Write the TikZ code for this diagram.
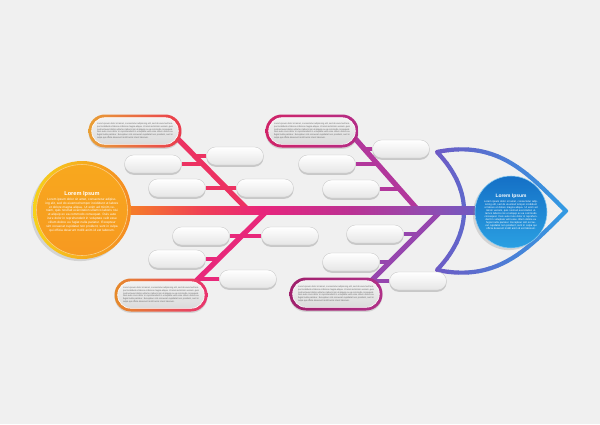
\documentclass[tikz,border=0pt]{standalone}
\usepackage{fontspec}
\setmainfont{Liberation Sans}
\usetikzlibrary{positioning,calc,shadows}

\definecolor{paper}{HTML}{F0F0F0}
\definecolor{spineA}{HTML}{F57A2A}
\definecolor{spineB}{HTML}{EF3F55}
\definecolor{spineC}{HTML}{E8257C}
\definecolor{spineD}{HTML}{BC3193}
\definecolor{spineE}{HTML}{8E4DB2}
\definecolor{spineF}{HTML}{6E5AC2}
\definecolor{eyeA}{HTML}{6F58C4}
\definecolor{eyeB}{HTML}{2E9EE4}
\definecolor{boneA}{HTML}{EC3262}
\definecolor{boneB}{HTML}{B2379C}
\definecolor{boneC}{HTML}{E8287A}
\definecolor{boneD}{HTML}{9646AE}
\definecolor{ringTLa}{HTML}{E9A035}
\definecolor{ringTLb}{HTML}{EA3A4E}
\definecolor{ringTMa}{HTML}{D02468}
\definecolor{ringTMb}{HTML}{B42C86}
\definecolor{ringBLa}{HTML}{E68A2A}
\definecolor{ringBLb}{HTML}{E8336E}
\definecolor{ringBRa}{HTML}{A0206C}
\definecolor{ringBRb}{HTML}{B03088}
\definecolor{sunA}{HTML}{F6D21A}
\definecolor{sunB}{HTML}{F58A22}
\definecolor{sunC}{HTML}{F8A81E}
\definecolor{sunD}{HTML}{FAD08C}
\definecolor{seaA}{HTML}{1570C6}
\definecolor{seaB}{HTML}{2AA0E2}
\definecolor{seaC}{HTML}{8CCDF2}

\pgfdeclarehorizontalshading{spineshade}{100bp}{color(0bp)=(spineA); color(31bp)=(spineA); color(39bp)=(spineB); color(46bp)=(spineC); color(56bp)=(spineD); color(66bp)=(spineE); color(71bp)=(spineF); color(100bp)=(spineF)}

\newcommand{\loremtext}{Lorem ipsum dolor sit amet, consectetur adipiscing elit, sed do eiusmod tempor incididunt ut labore et dolore magna aliqua. Ut enim ad minim veniam, quis nostrud exercitation ullamco laboris nisi ut aliquip ex ea commodo consequat. Duis aute irure dolor in reprehenderit in voluptate velit esse cillum dolore eu fugiat nulla pariatur. Excepteur sint occaecat cupidatat non proident, sunt in culpa qui officia deserunt mollit anim id est laborum.}
\newcommand{\eyepath}{(437,152) .. controls (500,139) and (530,176) .. (566,211) .. controls (530,246) and (500,283) .. (437,270) .. controls (456,250) and (464,230) .. (464,211) .. controls (464,192) and (456,172) .. (437,152) -- cycle}

\begin{document}
\begin{tikzpicture}[x=0.05cm,y=-0.05cm]
  \tikzstyle{pill}=[rectangle,rounded corners=0.45cm,minimum width=2.85cm,minimum height=0.9cm,inner sep=0pt,draw=black!22,line width=0.5pt,top color=white,bottom color=black!10,drop shadow={shadow xshift=0pt,shadow yshift=-2.5pt,opacity=0.35}]
  \tikzstyle{bigring}=[rectangle,rounded corners=0.82cm,minimum width=4.65cm,minimum height=1.65cm,inner sep=0pt,drop shadow={shadow xshift=0pt,shadow yshift=-2pt,opacity=0.25}]
  \tikzstyle{bigtext}=[rectangle,rounded corners=0.66cm,minimum width=4.33cm,minimum height=1.33cm,inner sep=0pt,draw=white,line width=0.8pt,top color=black!5,bottom color=black!14,text=black!60,text width=3.8cm,align=justify,font=\fontsize{3.2}{3.9}\selectfont]
  \tikzstyle{bone}=[line width=7.5pt]
  \tikzstyle{stub}=[line width=4.5pt]
  \tikzstyle{eyeline}=[line width=6pt,line join=round]
  \tikzstyle{headtitle}=[text=white,inner sep=0pt,font=\bfseries\fontsize{8}{9}\selectfont]
  \tikzstyle{headpara}=[text=white,inner sep=0pt,align=center,font=\fontsize{4.5}{5.5}\selectfont]

  \fill[paper] (0,0) rectangle (600,424);
  \useasboundingbox (0,0) rectangle (600,424);

  \coordinate (tail) at (82,210);
  \coordinate (head) at (511,212);

  % head outline
  \foreach \i in {0,...,14} {
    \pgfmathsetmacro\xa{428+10*\i}
    \pgfmathtruncatemacro\pc{100-\i*100/14}
    \begin{scope}
      \clip (\xa,130) rectangle ({\xa+10.5},295);
      \draw[eyeline,draw=eyeA!\pc!eyeB] \eyepath;
    \end{scope}
  }

  % bones
  \coordinate (b1top) at (174,135);   \coordinate (b1foot) at (248,210);
  \coordinate (b2top) at (352,135);   \coordinate (b2foot) at (418,210);
  \coordinate (b3top) at (187,290);   \coordinate (b3foot) at (268,210);
  \coordinate (b4top) at (363,289);   \coordinate (b4foot) at (442,210);

  \coordinate (b1a) at (202,164);  \coordinate (b1b) at (226,188);  \coordinate (b1c) at (194,156);
  \coordinate (b2a) at (377,164);  \coordinate (b2b) at (399,189);  \coordinate (b2c) at (364,149);
  \coordinate (b3a) at (241,236);  \coordinate (b3b) at (218,259);  \coordinate (b3c) at (198,279);
  \coordinate (b4a) at (418,234);  \coordinate (b4b) at (390,262);  \coordinate (b4c) at (371,281);

  \node[pill] (pa) at (153,164) {};
  \node[pill] (pb) at (177,188) {};
  \node[pill] (pc) at (235,156) {};
  \node[pill] (pd) at (265,188) {};
  \node[pill] (pf) at (327,164) {};
  \node[pill] (pg) at (351,189) {};
  \node[pill] (ph) at (401,149) {};
  \node[pill] (pj) at (201,236) {};
  \node[pill] (pk) at (177,259) {};
  \node[pill] (pl) at (248,279) {};
  \node[pill] (pm) at (290,236) {};
  \node[pill] (po) at (375,234) {};
  \node[pill] (pp) at (351,262) {};
  \node[pill] (pq) at (418,281) {};

  \draw[stub,boneA] (pa.east) -- (b1a);
  \draw[stub,boneA] (pb.east) -- (b1b);
  \draw[stub,boneA] (pc.west) -- (b1c);
  \draw[stub,boneA] (pd.west) -- (b1b);
  \draw[stub,boneB] (pf.east) -- (b2a);
  \draw[stub,boneB] (pg.east) -- (b2b);
  \draw[stub,boneB] (ph.west) -- (b2c);
  \draw[stub,boneC] (pj.east) -- (b3a);
  \draw[stub,boneC] (pk.east) -- (b3b);
  \draw[stub,boneC] (pl.west) -- (b3c);
  \draw[stub,boneC] (pm.west) -- (b3a);
  \draw[stub,boneD] (po.east) -- (b4a);
  \draw[stub,boneD] (pp.east) -- (b4b);
  \draw[stub,boneD] (pq.west) -- (b4c);

  \draw[bone,boneA] (b1top) -- (b1foot);
  \draw[bone,boneB] (b2top) -- (b2foot);
  \draw[bone,boneC] (b3foot) -- (b3top);
  \draw[bone,boneD] (b4foot) -- (b4top);

  % spine
  \path[shading=spineshade] ($(tail)+(0,-4)$) rectangle ($(head)+(0,2)$);

  % cause boxes
  \node[bigring,left color=ringTLa,right color=ringTLb] (tl) at (135,131) {};
  \node[bigtext] (tlt) at (tl) {\loremtext};
  \node[bigring,left color=ringTMa,right color=ringTMb] (tm) at (312,131) {};
  \node[bigtext] (tmt) at (tm) {\loremtext};
  \node[bigring,left color=ringBLa,right color=ringBLb] (bl) at (161,295) {};
  \node[bigtext] (blt) at (bl) {\loremtext};
  \node[bigring,left color=ringBRa,right color=ringBRb] (br) at (336,294) {};
  \node[bigtext] (brt) at (br) {\loremtext};

  % tail circle
  \node[circle,minimum size=4.9cm,left color=sunA,right color=sunB,drop shadow={shadow xshift=-3pt,shadow yshift=-3pt,opacity=0.25}] (tailring) at (tail) {};
  \node[circle,minimum size=4.55cm,draw=sunD,line width=0.8pt,top color=sunC,bottom color=sunB!50!sunC] (tailfill) at (tail) {};
  \node[headpara,text width=3.9cm] (tailpara) at ($(tail)+(0,5)$) {\loremtext};
  \node[headtitle,above=2pt of tailpara] (tailtitle) {Lorem Ipsum};

  % head circle
  \node[circle,minimum size=3.6cm,draw=seaC,line width=0.8pt,top color=seaA,bottom color=seaB,drop shadow={shadow xshift=-3pt,shadow yshift=-3pt,opacity=0.25}] (headfill) at (head) {};
  \node[headpara,text width=2.95cm,font=\fontsize{3.7}{4.4}\selectfont] (headpara) at ($(head)+(0,3)$) {\loremtext};
  \node[headtitle,above=2pt of headpara,font=\bfseries\fontsize{7}{8}\selectfont] (headtitle) {Lorem Ipsum};
\end{tikzpicture}
\end{document}
